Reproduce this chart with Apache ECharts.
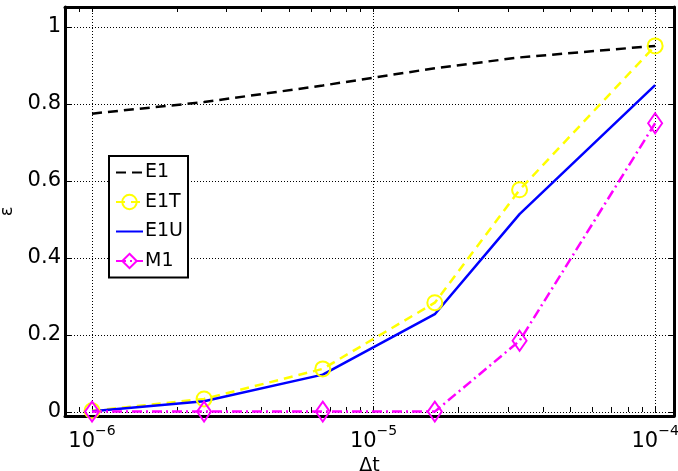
<!DOCTYPE html>
<html>
<head>
<meta charset="utf-8">
<script src="https://cdn.jsdelivr.net/npm/echarts@6/dist/echarts.min.js"></script>
<style>
  html, body { margin: 0; padding: 0; background: #fff; }
  #main { width: 678px; height: 471px; }
</style>
</head>
<body>
<div id="main"></div>
<script>
// time steps (x, log axis) and error values per method
var dt = [1e-6, 2.5e-6, 6.6e-6, 1.65e-5, 3.3e-5, 1e-4];
var e1 = [0.775, 0.805, 0.848, 0.893, 0.921, 0.951];
var e1t = [0.003, 0.034, 0.112, 0.284, 0.577, 0.951];
var e1u = [0.002, 0.028, 0.097, 0.254, 0.514, 0.849];
var m1 = [0.001, 0.001, 0.001, 0.001, 0.185, 0.75];

var xMajor = [-6, -5, -4];
var yTicks = [0, 0.2, 0.4, 0.6, 0.8, 1];

// log minor ticks, as log10 values
var xAll = [];
[-7, -6, -5, -4].forEach(function (d) {
    for (var k = 1; k <= 9; k++) {
        var v = Math.log10(k) + d;
        if (v >= -6.096 && v <= -3.933) xAll.push(v);
    }
});

function pairs(ys) {
    return dt.map(function (x, i) { return [Math.log10(x), ys[i]]; });
}

var font = 'DejaVu Sans';
var xMin = -6.096, xMax = -3.933, yMin = -0.0104, yMax = 1.052;
var clear = 'rgba(255,255,255,0)';

var chart = echarts.init(document.getElementById('main'));

var option = {
    animation: false,
    textStyle: { fontFamily: font, color: '#000' },
    grid: { left: 65, right: 4, top: 7, bottom: 55, containLabel: false, outerBoundsMode: 'none' },
    legend: {
        orient: 'vertical',
        left: 109,
        top: 156,
        padding: [7, 5, 7, 6],
        itemWidth: 27,
        itemHeight: 18,
        itemGap: 10.5,
        backgroundColor: '#fff',
        borderColor: '#000',
        borderWidth: 2,
        textStyle: { fontFamily: font, fontSize: 19, color: '#000', padding: [0, 0, 0, -3] },
        data: ['E1', 'E1T', 'E1U', 'M1']
    },
    xAxis: [{
        type: 'value',
        min: xMin,
        max: xMax,
        name: 'Δt',
        nameLocation: 'middle',
        nameGap: 38,
        nameTextStyle: { fontFamily: font, fontSize: 19, color: '#000' },
        axisLine: { show: true, onZero: false, lineStyle: { color: '#000', width: 3 } },
        axisTick: { show: false, customValues: xMajor },
        splitLine: { show: true, lineStyle: { color: '#000', type: [1, 2], width: 1 } },
        axisLabel: {
            customValues: xMajor,
            margin: 8,
            formatter: function (v) { return '{b|10}{s|−' + Math.abs(Math.round(v)) + '}'; },
            rich: {
                b: { fontFamily: font, fontSize: 21, lineHeight: 28, color: '#000', verticalAlign: 'bottom' },
                s: { fontFamily: font, fontSize: 14, lineHeight: 14, color: '#000', verticalAlign: 'top' }
            }
        }
    }, {
        type: 'value',
        min: xMin,
        max: xMax,
        position: 'bottom',
        axisLine: { show: false },
        axisTick: { show: true, inside: true, length: 5, customValues: xAll, lineStyle: { color: '#000', width: 1 } },
        axisLabel: { show: false },
        splitLine: { show: false }
    }, {
        type: 'value',
        min: xMin,
        max: xMax,
        position: 'top',
        axisLine: { show: true, onZero: false, lineStyle: { color: '#000', width: 3 } },
        axisTick: { show: true, inside: true, length: 5, customValues: xAll, lineStyle: { color: '#000', width: 1 } },
        axisLabel: { show: false },
        splitLine: { show: false }
    }],
    yAxis: [{
        type: 'value',
        min: yMin,
        max: yMax,
        name: 'ε',
        nameLocation: 'middle',
        nameRotate: 90,
        nameGap: 44,
        nameTextStyle: { fontFamily: font, fontSize: 18, color: '#000' },
        axisLine: { show: true, onZero: false, lineStyle: { color: '#000', width: 3 } },
        axisTick: { show: true, inside: true, length: 6, customValues: yTicks, lineStyle: { color: '#000', width: 1 } },
        splitLine: { show: true, lineStyle: { color: '#000', type: [1, 2], width: 1 } },
        axisLabel: {
            customValues: yTicks,
            margin: 4,
            fontFamily: font,
            fontSize: 21,
            color: '#000',
            formatter: function (v) { return String(Math.round(v * 10) / 10); }
        }
    }, {
        type: 'value',
        min: yMin,
        max: yMax,
        position: 'right',
        axisLine: { show: true, onZero: false, lineStyle: { color: '#000', width: 3 } },
        axisTick: { show: true, inside: true, length: 6, customValues: yTicks, lineStyle: { color: '#000', width: 1 } },
        axisLabel: { show: false },
        splitLine: { show: false }
    }],
    series: [{
        name: 'E1',
        type: 'line',
        data: pairs(e1),
        showSymbol: false,
        symbol: 'none',
        lineStyle: { color: '#000', width: 2.5, type: [10, 6] },
        itemStyle: { color: clear, borderColor: clear }
    }, {
        name: 'E1T',
        type: 'line',
        data: pairs(e1t),
        symbol: 'circle',
        symbolSize: 15,
        lineStyle: { color: '#ffff00', width: 2.5, type: [9, 6] },
        itemStyle: { color: clear, borderColor: '#ffff00', borderWidth: 2 }
    }, {
        name: 'E1U',
        type: 'line',
        data: pairs(e1u),
        symbol: 'none',
        lineStyle: { color: '#0000ff', width: 2.5 },
        itemStyle: { color: clear, borderColor: clear }
    }, {
        name: 'M1',
        type: 'line',
        data: pairs(m1),
        symbol: 'diamond',
        symbolSize: [14, 20],
        lineStyle: { color: '#ff00ff', width: 2.5, type: [10, 4, 2, 4] },
        itemStyle: { color: clear, borderColor: '#ff00ff', borderWidth: 2 }
    }]
};

chart.setOption(option);
window.addEventListener('resize', function () { chart.resize(); });
</script>
</body>
</html>
